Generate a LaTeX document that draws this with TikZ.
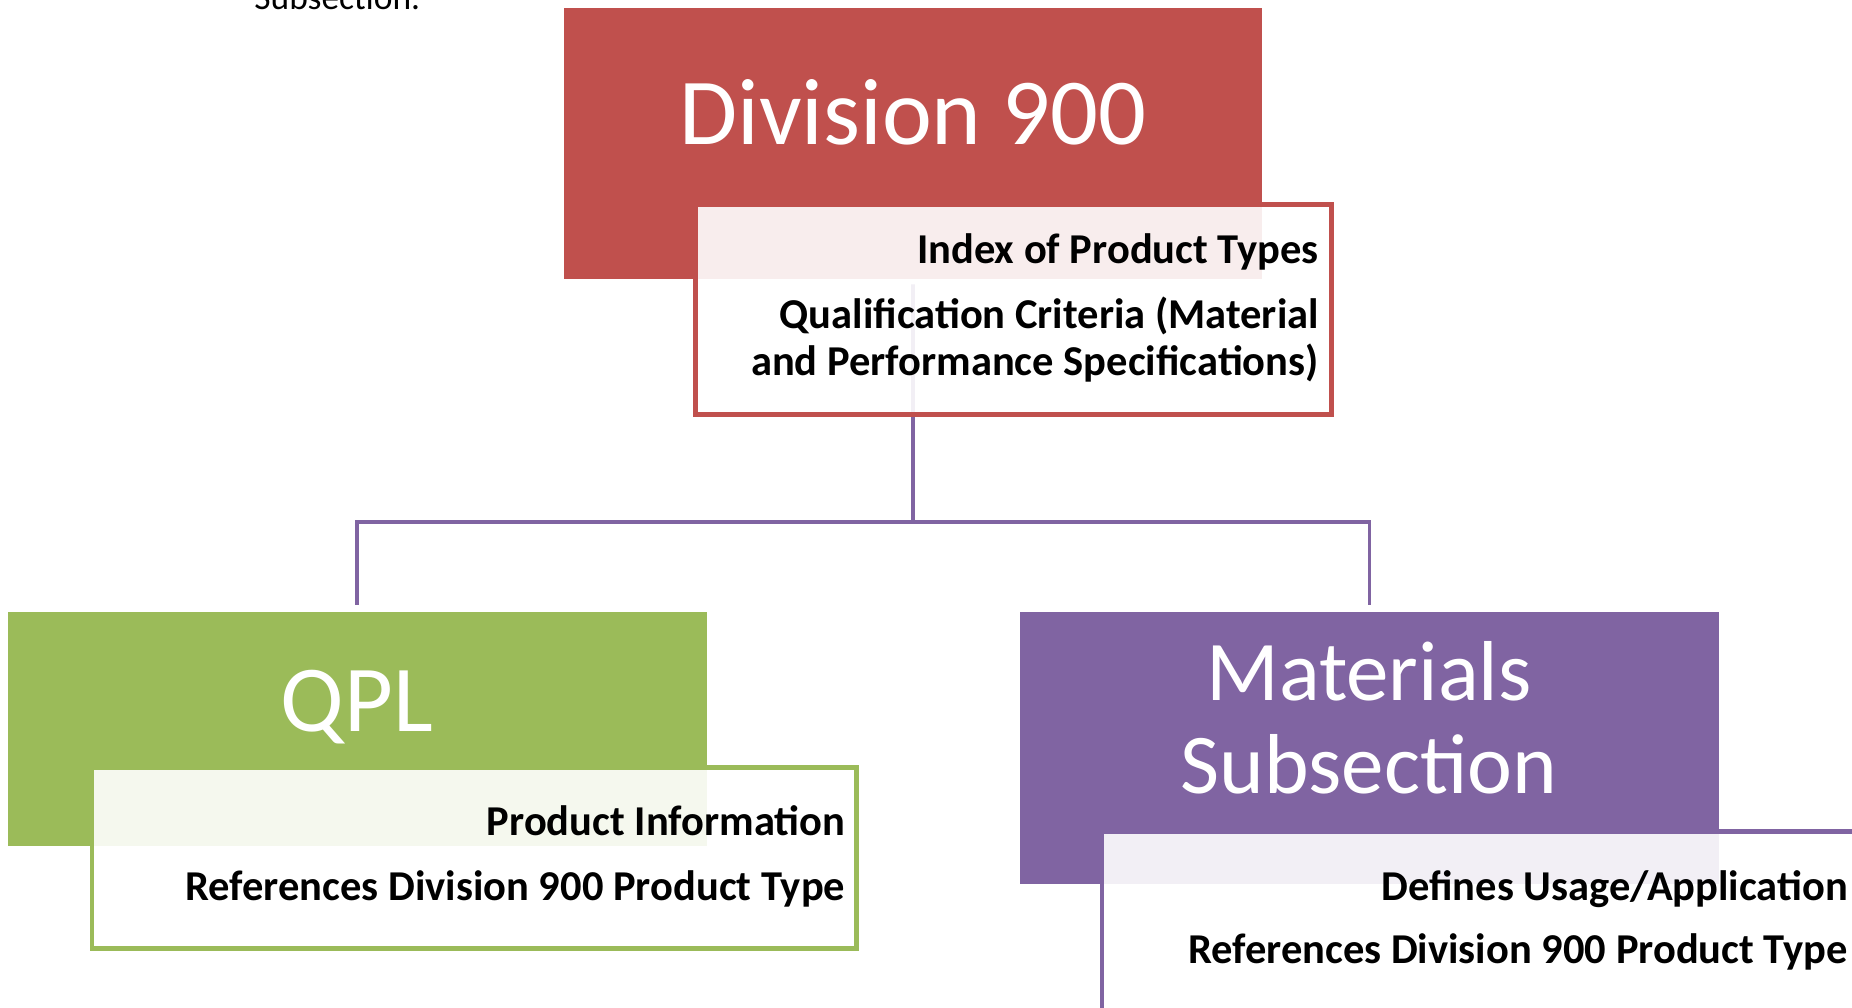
\documentclass[tikz,border=0pt]{standalone}
\usepackage{fontspec}
\setmainfont{Carlito}
\usepackage{tikz}

\definecolor{divred}{HTML}{C0504D}
\definecolor{qplgreen}{HTML}{9BBB59}
\definecolor{matpurple}{HTML}{8064A2}

\tikzset{
  headbox/.style={anchor=north west, inner sep=0pt, draw=none},
  infobox/.style={anchor=north west, inner sep=0pt, fill=white, fill opacity=0.9, line width=2pt},
  headtext/.style={text=white, inner sep=0pt, anchor=base, font=\fontsize{40}{44}\selectfont},
  infotext/.style={inner sep=0pt, anchor=base east, align=right, font=\bfseries\fontsize{18}{20}\selectfont},
  conn/.style={draw=matpurple, line width=1.6pt}
}

\begin{document}
\begin{tikzpicture}[x=0.5pt,y=0.5pt,yscale=-1,xscale=1]
\useasboundingbox (0,0) rectangle (1568,853);

%Shape: Rectangle [div]
\node[headbox, fill=divred, minimum width=295.5pt, minimum height=115pt] (div) at (477,6) {};
%Shape: Rectangle [qpl]
\node[headbox, fill=qplgreen, minimum width=296pt, minimum height=99pt] (qpl) at (6,518) {};
%Shape: Rectangle [mat]
\node[headbox, fill=matpurple, minimum width=296pt, minimum height=115pt] (mat) at (863,518) {};

%Straight Lines [hub]
\coordinate (hub) at (773,442);
\draw[conn, shorten <=2pt] (div.south) -- (hub);
\draw[conn, shorten >=3pt] (hub) -| (qpl.north);
\draw[conn, shorten >=3pt] (hub) -| (mat.north);

%Shape: Rectangle [divinfo]
\node[infobox, draw=divred, minimum width=269pt, minimum height=89pt] (divinfo) at (587,171) {};
%Shape: Rectangle [qplinfo]
\node[infobox, draw=qplgreen, minimum width=323.5pt, minimum height=76.5pt] (qplinfo) at (76,648) {};
%Shape: Rectangle [matinfo]
\node[infobox, draw=matpurple, minimum width=344pt, minimum height=98.5pt] (matinfo) at (931,702) {};

% Text Node
\node[anchor=base west, inner sep=0pt, font=\fontsize{15}{18}\selectfont] (topnote) at (215,8) {Subsection.};
% Text Node
\node[headtext] (divtitle) at (773,122) {Division 900};
% Text Node
\node[headtext] (qpltitle) at (302,619) {QPL};
% Text Node (base = last line)
\node[headtext, align=center, font=\fontsize{36}{39.5}\selectfont] (mattitle) at (1159,672) {Materials\\Subsection};

% Text Node
\node[infotext] (divline1) at (1117,223) {Index of Product Types};
% Text Node (base = last line)
\node[infotext] (divline2) at (1117,318) {Qualification Criteria (Material\\and Performance Specifications)};
% Text Node
\node[infotext] (qplline1) at (716,707) {Product Information};
% Text Node
\node[infotext] (qplline2) at (716,762) {References Division 900 Product Type};
% Text Node
\node[infotext] (matline1) at (1565,762) {Defines Usage/Application};
% Text Node
\node[infotext] (matline2) at (1565,816) {References Division 900 Product Type};

\end{tikzpicture}
\end{document}
